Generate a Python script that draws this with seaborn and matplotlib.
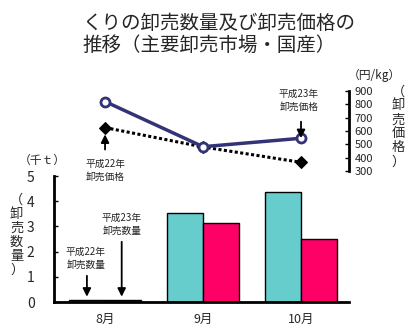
import matplotlib
matplotlib.use("Agg")
import matplotlib.pyplot as plt
import seaborn as sns
import numpy as np
import pandas as pd

months = ["8月", "9月", "10月"]
series = ["平成22年", "平成23年"]
qty_h22 = [0.06, 3.55, 4.38]
qty_h23 = [0.06, 3.12, 2.52]
price_h22 = [625, 480, 365]
price_h23 = [820, 482, 545]
qty_ticks = [0, 1, 2, 3, 4, 5]
price_ticks = [300, 400, 500, 600, 700, 800, 900]

sns.set_theme(style="white")
plt.rcParams['font.family'] = ['Noto Sans CJK JP', 'DejaVu Sans']

fig = plt.figure(figsize=(4.16, 3.34), dpi=100)
ax = fig.add_axes([0.130, 0.0958, 0.709, 0.377])
axp = fig.add_axes([0.130, 0.488, 0.709, 0.240])

df = pd.DataFrame({
    "month": months * 2,
    "series": [series[0]] * 3 + [series[1]] * 3,
    "qty": qty_h22 + qty_h23,
})
sns.barplot(data=df, x="month", y="qty", hue="series", order=months,
            hue_order=series, palette=["#66CCCC", "#FF0066"], width=0.74,
            gap=0, edgecolor="black", linewidth=1, ax=ax, legend=False,
            saturation=1)
ax.set_xlim(-0.52, 2.49)
ax.set_ylim(0, 5)
ax.set_yticks(qty_ticks)
ax.set_xlabel("")
ax.set_ylabel("")
for s in ["top", "right"]:
    ax.spines[s].set_visible(False)
for s in ["left", "bottom"]:
    ax.spines[s].set_color("black")
    ax.spines[s].set_linewidth(2)
ax.tick_params(axis="y", direction="in", length=3, width=1, color="black",
               labelsize=10, pad=14, left=True)
ax.tick_params(axis="x", length=0, labelsize=9, pad=8)

xpos = np.arange(len(months))
dfp = pd.DataFrame({"x": np.concatenate([xpos, xpos]),
                    "price": price_h22 + price_h23,
                    "series": [series[0]] * 3 + [series[1]] * 3})
sns.lineplot(data=dfp[dfp.series == series[0]], x="x", y="price", ax=axp,
             color="black", linestyle=(0, (1, 0.8)), linewidth=2.2,
             marker="D", markersize=6, markerfacecolor="black",
             markeredgecolor="black", clip_on=False, legend=False)
sns.lineplot(data=dfp[dfp.series == series[1]], x="x", y="price", ax=axp,
             color="#333377", linewidth=2.5, marker="o", markersize=6.5,
             markerfacecolor="white", markeredgecolor="#333377",
             markeredgewidth=2, clip_on=False, legend=False)
axp.set_xlim(-0.52, 2.49)
axp.set_ylim(300, 900)
axp.set_yticks(price_ticks)
axp.set_xticks([])
axp.set_xlabel("")
axp.set_ylabel("")
axp.patch.set_alpha(0)
for s in ["top", "left", "bottom"]:
    axp.spines[s].set_visible(False)
axp.spines["right"].set_color("black")
axp.spines["right"].set_linewidth(2)
axp.yaxis.tick_right()
axp.tick_params(axis="y", direction="in", length=3, width=1, color="black",
                labelsize=8, pad=4, right=True)

fig.text(0.198, 0.96, "くりの卸売数量及び卸売価格の\n推移（主要卸売市場・国産）",
         ha="left", va="top", fontsize=14, linespacing=1.05)
fig.text(0.045, 0.52, "（千ｔ）", fontsize=8.5, va="center")
fig.text(0.835, 0.775, "（円/kg）", fontsize=8.5, va="center")
fig.text(0.04, 0.295, "（\n卸\n売\n数\n量\n）", fontsize=9.5, va="center",
         ha="center", linespacing=1.1)
fig.text(0.957, 0.62, "（\n卸\n売\n価\n格\n）", fontsize=9.5, va="center",
         ha="center", linespacing=1.1)

# annotations
akw = dict(arrowstyle="-|>,head_length=0.4,head_width=0.2", color="black", lw=1.3)
axp.annotate("", xy=(0, 595), xytext=(0, 440), arrowprops=akw,
             annotation_clip=False)
fig.text(105/416, 1-170/334, "平成22年\n卸売価格", fontsize=7, ha="center",
         va="center", linespacing=1.4)
axp.annotate("", xy=(2, 525), xytext=(2, 690), arrowprops=akw,
             annotation_clip=False)
fig.text(299/416, 1-100/334, "平成23年\n卸売価格", fontsize=7, ha="center",
         va="center", linespacing=1.4)
ax.annotate("", xy=(-0.185, 0.1), xytext=(-0.185, 1.15), arrowprops=akw,
            annotation_clip=False)
fig.text(86/416, 1-258/334, "平成22年\n卸売数量", fontsize=7, ha="center",
         va="center", linespacing=1.4)
ax.annotate("", xy=(0.17, 0.1), xytext=(0.17, 2.5), arrowprops=akw,
            annotation_clip=False)
fig.text(122/416, 1-224/334, "平成23年\n卸売数量", fontsize=7, ha="center",
         va="center", linespacing=1.4)

fig.savefig("out.png", dpi=100)
